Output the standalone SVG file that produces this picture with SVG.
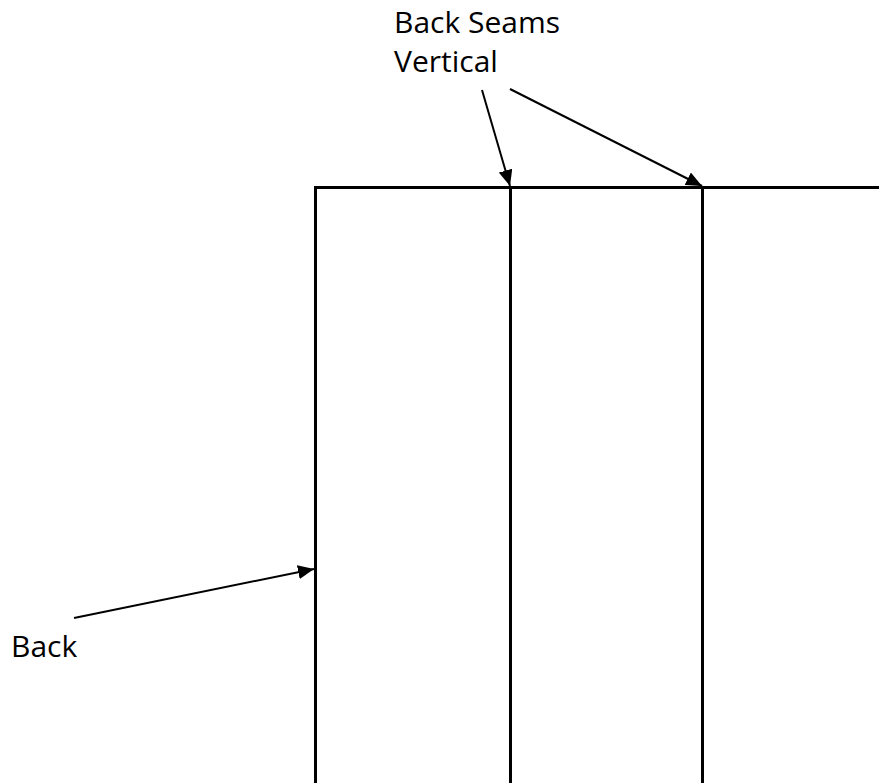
<svg xmlns="http://www.w3.org/2000/svg" width="879" height="783" viewBox="0 0 879 783">
<style>
.lbl{font-family:"Open Sans","Liberation Sans",sans-serif;font-size:30px;fill:#000}
.edge{stroke:#000;stroke-width:2;fill:none}
.wall{stroke:#000;stroke-width:3;fill:none}
</style>
<defs>
<marker id="ah" markerUnits="userSpaceOnUse" markerWidth="18" markerHeight="14" refX="16" refY="7" orient="auto">
<path d="M0,0 L16,7 L0,14 Z" fill="#000"/>
</marker>
</defs>
<rect width="879" height="783" fill="#fff"/>
<g id="panels">
<path class="wall" d="M315.5,783 V187.5 H879"/>
<path class="wall" d="M510.5,187.5 V783"/>
<path class="wall" d="M702.5,187.5 V783"/>
</g>
<g id="label-seams">
<text class="lbl" x="394" y="33">Back Seams</text>
<text class="lbl" x="394" y="72">Vertical</text>
</g>
<g id="label-back">
<text class="lbl" x="11" y="657">Back</text>
</g>
<g id="connectors">
<path class="edge" d="M482,90 L510,186" marker-end="url(#ah)"/>
<path class="edge" d="M510,89 L702,186" marker-end="url(#ah)"/>
<path class="edge" d="M74,618 L314,569" marker-end="url(#ah)"/>
</g>
</svg>
